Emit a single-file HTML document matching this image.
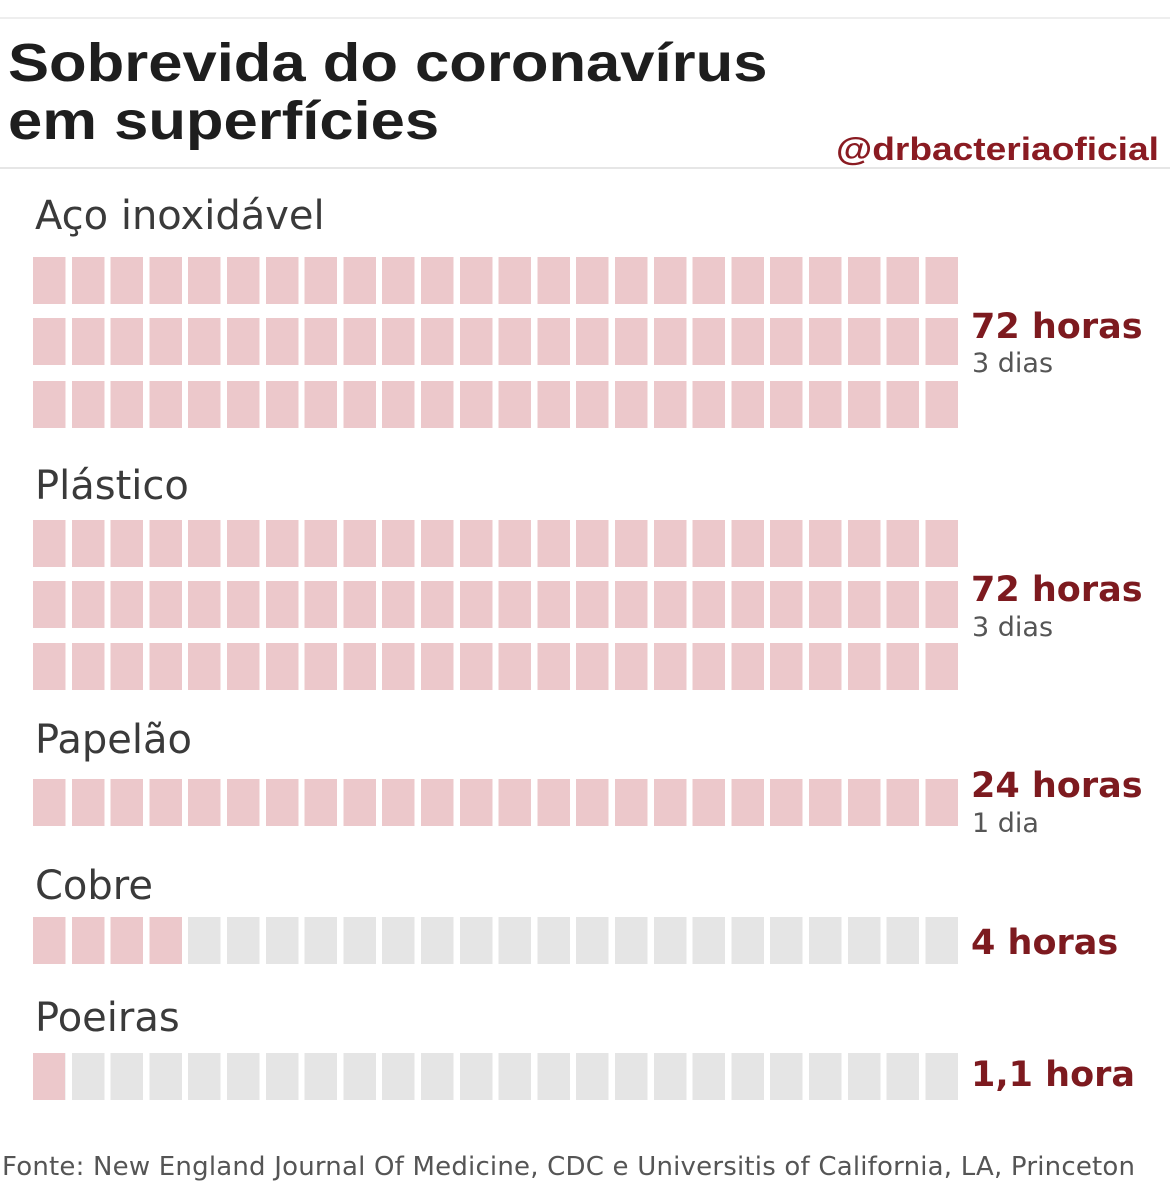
<!DOCTYPE html>
<html><head><meta charset="utf-8"><style>
body{margin:0;width:1170px;height:1194px;background:#fff;position:relative;overflow:hidden;font-family:"Liberation Sans","DejaVu Sans",sans-serif}
.a{position:absolute}
.t{left:8px;font-weight:bold;font-size:54px;color:#1e1e1e;line-height:1;transform-origin:0 0;transform:scaleX(1.14);white-space:nowrap}
.lab{left:35px;font-family:"DejaVu Sans",sans-serif;font-size:40px;color:#3a3a3a;line-height:1}
.r{left:33px;width:925px;height:47px}
.p{background:repeating-linear-gradient(to right,#ecc8cb 0 32.5px,transparent 32.5px 38.8px)}
.g{background:repeating-linear-gradient(to right,#e5e5e5 0 32.5px,transparent 32.5px 38.8px)}
.h{left:971px;font-family:"DejaVu Sans",sans-serif;font-weight:bold;font-size:35px;color:#7d1a1f;line-height:1}
.d{left:972px;font-family:"DejaVu Sans",sans-serif;font-size:27px;color:#555;line-height:1}
</style></head><body>
<div class="a" style="left:0;top:17px;width:1170px;height:2px;background:#eee"></div>
<div class="a t" style="top:36px">Sobrevida do coronavírus</div>
<div class="a t" style="top:94px">em superfícies</div>
<div class="a" style="left:836px;top:131px;font-weight:bold;font-size:32px;color:#8a1b22;transform-origin:0 0;transform:scaleX(1.16);white-space:nowrap">@drbacteriaoficial</div>
<div class="a" style="left:0;top:167px;width:1170px;height:2px;background:#e6e6e6"></div>

<div class="a lab" style="top:196px">Aço inoxidável</div>
<div class="a r p" style="top:257px"></div>
<div class="a r p" style="top:318px"></div>
<div class="a r p" style="top:381px"></div>
<div class="a h" style="top:310px">72 horas</div>
<div class="a d" style="top:350px">3 dias</div>

<div class="a lab" style="top:466px">Plástico</div>
<div class="a r p" style="top:520px"></div>
<div class="a r p" style="top:581px"></div>
<div class="a r p" style="top:643px"></div>
<div class="a h" style="top:573px">72 horas</div>
<div class="a d" style="top:614px">3 dias</div>

<div class="a lab" style="top:720px">Papelão</div>
<div class="a r p" style="top:779px"></div>
<div class="a h" style="top:769px">24 horas</div>
<div class="a d" style="top:810px">1 dia</div>

<div class="a lab" style="top:866px">Cobre</div>
<div class="a r g" style="top:917px"></div>
<div class="a r p" style="top:917px;width:149px"></div>
<div class="a h" style="top:926px">4 horas</div>

<div class="a lab" style="top:998px">Poeiras</div>
<div class="a r g" style="top:1053px"></div>
<div class="a r" style="top:1053px;width:32px;background:#ecc8cb"></div>
<div class="a h" style="top:1058px">1,1 hora</div>

<div class="a" style="left:2px;top:1152px;font-family:'DejaVu Sans',sans-serif;font-size:26px;color:#555;letter-spacing:0.2px;white-space:nowrap">Fonte: New England Journal Of Medicine, CDC e Universitis of California, LA, Princeton</div>
</body></html>
